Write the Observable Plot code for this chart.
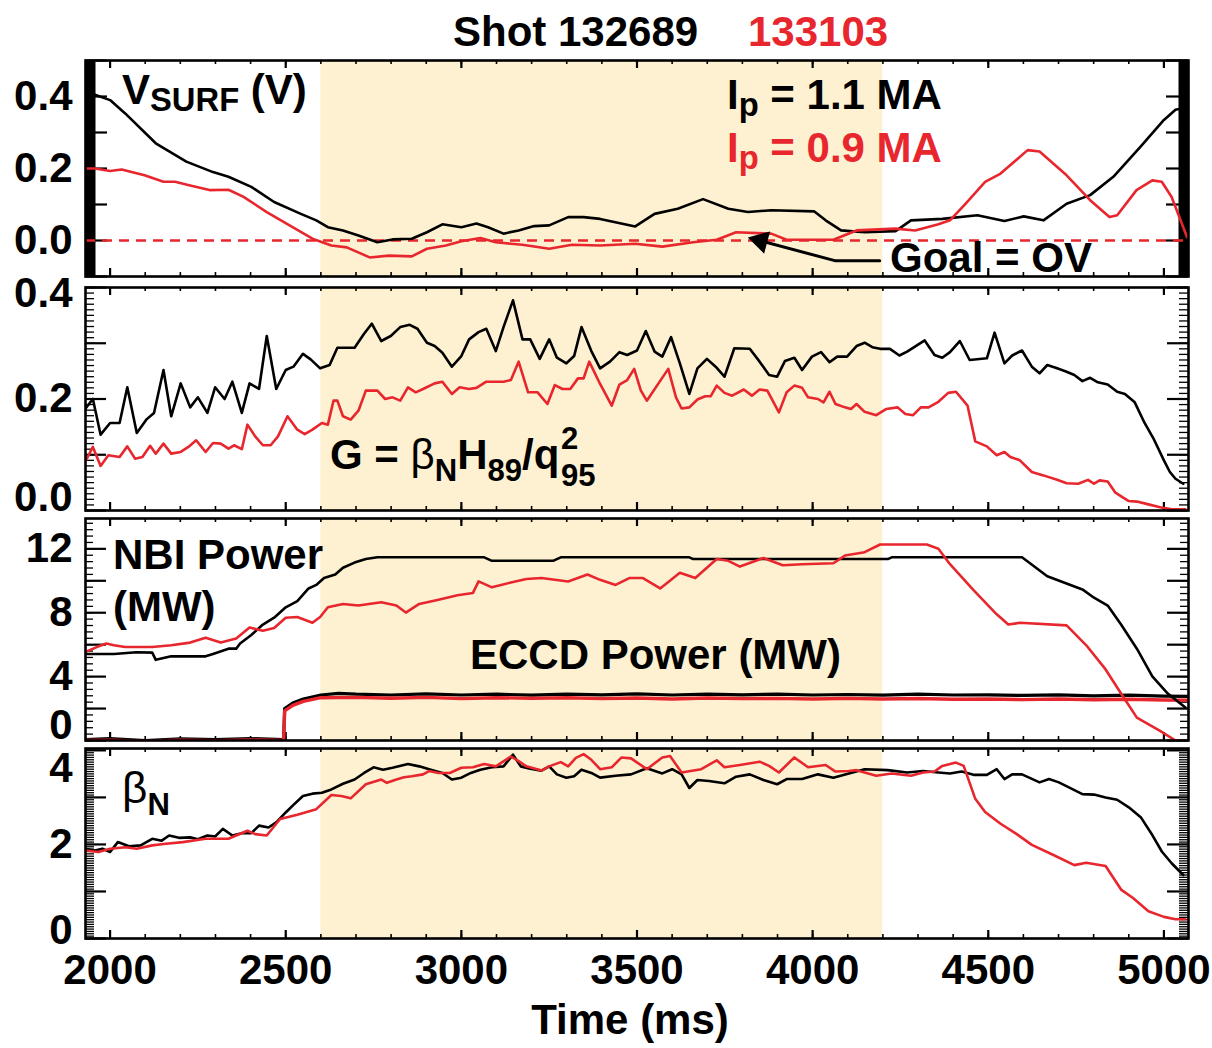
<!DOCTYPE html>
<html>
<head>
<meta charset="utf-8">
<script src="https://cdn.jsdelivr.net/npm/d3@7"></script>
<script src="https://cdn.jsdelivr.net/npm/@observablehq/plot@0.6"></script>
<style>
  html, body { margin: 0; padding: 0; background: #fff; }
  #wrap { position: relative; width: 1212px; height: 1048px; overflow: hidden;
          font-family: "Liberation Sans", Arial, Helvetica, sans-serif; font-weight: bold; }
  .ann { position: absolute; white-space: nowrap; line-height: 1; }
  .sub { font-size: 0.78em; position: relative; top: 0.2em; }
  .subL { font-size: 0.74em; position: relative; top: 0.38em; }
  .thin { font-weight: normal; }
  .stack { position: relative; display: inline-block; width: 0.82em; height: 0; font-size: 0.74em; }
  .stack span { position: absolute; left: 0.05em; line-height: 1; }
</style>
</head>
<body>
<div id="wrap"></div>
<script>
// ---------------- DATA ----------------
// Shot 132689 (black, Ip = 1.1 MA) and 133103 (red, Ip = 0.9 MA); time in ms
const timeDomain = [1930, 5070];
const eccdWindow = [{start: 2600, end: 4200}];
const timeMajorTicks = [2000, 2500, 3000, 3500, 4000, 4500, 5000];

// Surface loop voltage V_SURF (V)
const vsurf132689 = [[1930,0.41],[1957,0.405],[2000,0.39],[2043,0.353],[2130,0.27],[2217,0.219],[2293,0.19],[2337,0.177],[2402,0.149],[2467,0.107],[2543,0.074],[2587,0.056],[2620,0.037],[2663,0.028],[2707,0.014],[2761,-0.005],[2804,0.003],[2859,0.005],[2902,0.023],[2946,0.045],[3000,0.037],[3043,0.047],[3076,0.037],[3120,0.019],[3163,0.028],[3207,0.04],[3250,0.042],[3304,0.065],[3348,0.065],[3395,0.06],[3495,0.039],[3550,0.074],[3616,0.088],[3688,0.115],[3760,0.088],[3816,0.079],[3882,0.084],[4004,0.081],[4037,0.056],[4081,0.028],[4148,0.023],[4236,0.026],[4280,0.056],[4369,0.06],[4469,0.07],[4546,0.054],[4601,0.067],[4657,0.056],[4723,0.102],[4790,0.126],[4856,0.177],[4933,0.26],[5000,0.335],[5033,0.363],[5065,0.37]];
const vsurf133103 = [[1930,0.2],[1957,0.2],[2000,0.193],[2033,0.197],[2098,0.181],[2152,0.163],[2185,0.163],[2228,0.153],[2283,0.14],[2337,0.141],[2380,0.121],[2446,0.079],[2511,0.042],[2576,0.005],[2630,-0.014],[2674,-0.019],[2739,-0.047],[2794,-0.042],[2859,-0.044],[2902,-0.023],[2956,-0.014],[3000,-0.002],[3054,0.007],[3098,-0.005],[3174,-0.012],[3250,-0.023],[3315,-0.012],[3395,-0.014],[3495,-0.009],[3572,-0.017],[3660,-0.005],[3727,0.002],[3782,0.023],[3882,0.019],[3926,0.002],[4059,0.002],[4125,0.028],[4236,0.033],[4292,0.028],[4358,0.045],[4391,0.056],[4435,0.102],[4491,0.163],[4535,0.186],[4612,0.251],[4646,0.247],[4723,0.181],[4790,0.112],[4845,0.065],[4867,0.07],[4922,0.14],[4967,0.167],[4994,0.163],[5022,0.121],[5066,0.009]];
const vsurfGoal = [0];
const goalLeader = [[4191,-0.056],[4063,-0.056],[3856,-0.002]];
const goalArrowHead = [[3852,-0.001]];

// G = betaN H89 / q95^2
const g132689 = [[1929,0.182],[1951,0.2],[1973,0.136],[2000,0.157],[2027,0.157],[2049,0.221],[2076,0.139],[2103,0.163],[2125,0.175],[2152,0.252],[2174,0.169],[2201,0.228],[2228,0.185],[2250,0.203],[2277,0.175],[2299,0.221],[2326,0.2],[2348,0.231],[2375,0.175],[2397,0.228],[2424,0.218],[2446,0.313],[2473,0.218],[2500,0.252],[2522,0.258],[2549,0.281],[2571,0.271],[2598,0.255],[2625,0.261],[2647,0.292],[2674,0.292],[2696,0.292],[2723,0.317],[2745,0.335],[2772,0.304],[2799,0.313],[2826,0.329],[2853,0.333],[2875,0.326],[2902,0.301],[2924,0.295],[2946,0.283],[2973,0.258],[3000,0.277],[3022,0.307],[3049,0.32],[3071,0.326],[3098,0.286],[3120,0.329],[3147,0.377],[3174,0.307],[3196,0.307],[3223,0.272],[3250,0.307],[3272,0.274],[3299,0.264],[3321,0.277],[3342,0.329],[3370,0.286],[3395,0.255],[3423,0.267],[3450,0.284],[3472,0.279],[3500,0.287],[3525,0.322],[3550,0.285],[3572,0.276],[3597,0.311],[3622,0.264],[3649,0.209],[3672,0.255],[3699,0.272],[3727,0.256],[3749,0.24],[3777,0.291],[3821,0.29],[3849,0.267],[3876,0.243],[3899,0.24],[3921,0.268],[3948,0.274],[3970,0.252],[3998,0.276],[4024,0.284],[4048,0.266],[4070,0.276],[4098,0.276],[4125,0.295],[4148,0.301],[4170,0.293],[4192,0.29],[4220,0.29],[4247,0.278],[4269,0.285],[4319,0.305],[4347,0.279],[4369,0.274],[4391,0.284],[4419,0.304],[4447,0.27],[4496,0.273],[4518,0.319],[4546,0.264],[4568,0.278],[4596,0.287],[4624,0.258],[4646,0.246],[4668,0.261],[4696,0.255],[4723,0.249],[4745,0.243],[4768,0.232],[4790,0.238],[4812,0.23],[4840,0.226],[4867,0.213],[4889,0.209],[4917,0.194],[4945,0.157],[4972,0.127],[5000,0.09],[5017,0.069],[5033,0.057],[5055,0.048]];
const g133103 = [[1929,0.087],[1951,0.114],[1973,0.08],[1995,0.099],[2027,0.096],[2049,0.115],[2071,0.093],[2092,0.096],[2114,0.116],[2130,0.102],[2152,0.12],[2174,0.102],[2201,0.105],[2223,0.114],[2245,0.126],[2272,0.105],[2293,0.121],[2315,0.12],[2337,0.111],[2353,0.117],[2375,0.11],[2391,0.154],[2413,0.133],[2435,0.117],[2457,0.117],[2478,0.133],[2505,0.169],[2533,0.145],[2554,0.137],[2576,0.145],[2603,0.157],[2620,0.154],[2636,0.197],[2647,0.197],[2663,0.169],[2685,0.163],[2707,0.179],[2728,0.215],[2761,0.215],[2783,0.2],[2804,0.203],[2826,0.197],[2848,0.221],[2870,0.212],[2891,0.218],[2924,0.228],[2946,0.231],[2973,0.209],[2995,0.221],[3022,0.218],[3043,0.22],[3071,0.231],[3098,0.231],[3120,0.231],[3141,0.234],[3163,0.267],[3190,0.212],[3217,0.212],[3245,0.191],[3266,0.225],[3288,0.218],[3310,0.218],[3332,0.237],[3348,0.237],[3364,0.267],[3395,0.227],[3428,0.188],[3450,0.226],[3472,0.234],[3492,0.254],[3511,0.215],[3528,0.197],[3589,0.254],[3611,0.203],[3627,0.183],[3649,0.185],[3672,0.199],[3694,0.205],[3710,0.205],[3727,0.224],[3749,0.211],[3771,0.206],[3804,0.217],[3827,0.206],[3849,0.217],[3871,0.215],[3904,0.176],[3926,0.212],[3948,0.224],[3970,0.22],[3987,0.203],[4015,0.2],[4031,0.194],[4048,0.213],[4065,0.191],[4092,0.185],[4109,0.182],[4125,0.191],[4148,0.177],[4181,0.171],[4209,0.182],[4242,0.185],[4264,0.173],[4286,0.171],[4308,0.185],[4330,0.185],[4358,0.195],[4386,0.211],[4408,0.213],[4441,0.188],[4463,0.124],[4496,0.115],[4524,0.099],[4546,0.105],[4563,0.096],[4590,0.09],[4624,0.069],[4657,0.063],[4696,0.055],[4723,0.049],[4756,0.048],[4784,0.055],[4801,0.048],[4817,0.054],[4840,0.052],[4862,0.032],[4884,0.023],[4900,0.017],[4923,0.016],[4956,0.011],[4989,0.006],[5022,0.002],[5061,0.002]];

// NBI power (MW)
const nbi132689 = [[1930,5.42],[2011,5.42],[2075,5.53],[2120,5.5],[2130,5.05],[2174,5.27],[2272,5.27],[2293,5.42],[2337,5.75],[2359,5.75],[2370,6.07],[2402,6.61],[2435,7.26],[2467,7.69],[2500,8.34],[2533,8.73],[2565,9.52],[2587,9.74],[2609,10.17],[2641,10.39],[2663,10.82],[2696,11.14],[2728,11.36],[2761,11.47],[3065,11.47],[3087,11.25],[3261,11.25],[3283,11.47],[3649,11.47],[3660,11.36],[4214,11.36],[4225,11.47],[4596,11.47],[4668,10.28],[4768,9.46],[4801,8.94],[4840,8.45],[4878,7.26],[4923,5.75],[4967,4.02],[5011,2.94],[5061,2.07]];
const nbi133103 = [[1929,5.53],[1962,5.85],[1989,6.07],[2011,5.96],[2043,5.85],[2120,5.85],[2174,5.96],[2228,6.13],[2272,6.44],[2315,6.13],[2359,6.39],[2397,7.08],[2435,6.87],[2467,7.04],[2500,7.69],[2533,7.73],[2576,7.37],[2598,7.73],[2620,8.34],[2663,8.55],[2707,8.45],[2772,8.66],[2815,8.45],[2842,8.01],[2880,8.55],[2935,8.81],[2989,9.09],[3033,9.24],[3049,9.96],[3087,9.59],[3141,9.89],[3185,10.11],[3228,10.17],[3304,9.96],[3359,10.39],[3395,10.06],[3439,9.74],[3478,10.17],[3517,10.17],[3566,9.52],[3622,10.5],[3666,10.17],[3727,11.36],[3760,11.25],[3793,10.89],[3860,11.43],[3915,10.97],[3970,11.04],[4059,11.1],[4092,11.58],[4148,11.79],[4192,12.27],[4325,12.27],[4358,12.01],[4391,11.04],[4458,9.42],[4524,7.9],[4557,7.26],[4590,7.37],[4723,7.21],[4779,5.96],[4834,4.45],[4878,2.94],[4923,1.43],[4989,0.6],[5033,0.0],[5065,0.0]];

// ECCD power (MW)
const eccd132689 = [[1930,0.05],[2000,0.12],[2100,0.0],[2200,0.1],[2300,0.05],[2400,0.12],[2494,0.05],[2497,2.0],[2520,2.35],[2550,2.6],[2600,2.85],[2650,2.95],[2700,2.9],[2800,2.85],[2900,2.92],[3000,2.85],[3100,2.9],[3200,2.84],[3300,2.9],[3400,2.86],[3500,2.92],[3600,2.85],[3700,2.9],[3800,2.86],[3900,2.9],[4000,2.85],[4100,2.88],[4200,2.84],[4300,2.9],[4400,2.85],[4500,2.86],[4600,2.82],[4700,2.86],[4800,2.8],[4900,2.84],[5000,2.78],[5070,2.76]];
const eccd133103 = [[1930,0.0],[2000,0.02],[2100,-0.05],[2200,0.02],[2300,-0.02],[2400,0.03],[2494,0.0],[2497,1.85],[2520,2.2],[2550,2.45],[2600,2.68],[2700,2.7],[2800,2.65],[2900,2.7],[3000,2.62],[3100,2.68],[3200,2.64],[3300,2.68],[3400,2.62],[3500,2.66],[3600,2.6],[3700,2.66],[3800,2.62],[3900,2.64],[4000,2.6],[4100,2.64],[4200,2.6],[4300,2.63],[4400,2.58],[4500,2.6],[4600,2.56],[4700,2.6],[4800,2.55],[4900,2.58],[5000,2.54],[5070,2.52]];

// Normalized beta
const betaN132689 = [[1929,1.91],[1957,1.87],[1978,1.91],[2000,1.84],[2022,2.05],[2054,1.96],[2087,1.98],[2120,2.12],[2147,2.08],[2168,2.19],[2196,2.14],[2228,2.15],[2250,2.11],[2277,2.19],[2299,2.17],[2321,2.33],[2348,2.19],[2375,2.24],[2402,2.24],[2424,2.4],[2451,2.36],[2473,2.47],[2500,2.68],[2522,2.84],[2549,3.03],[2576,3.08],[2603,3.1],[2630,3.17],[2663,3.29],[2696,3.38],[2723,3.52],[2750,3.64],[2777,3.59],[2804,3.63],[2848,3.71],[2880,3.66],[2913,3.59],[2946,3.52],[2973,3.38],[3000,3.42],[3027,3.52],[3054,3.59],[3087,3.64],[3120,3.66],[3147,3.91],[3169,3.66],[3196,3.61],[3228,3.57],[3250,3.66],[3272,3.49],[3299,3.42],[3321,3.45],[3342,3.59],[3370,3.52],[3395,3.42],[3439,3.46],[3483,3.49],[3528,3.62],[3572,3.51],[3600,3.6],[3627,3.49],[3649,3.2],[3672,3.37],[3705,3.35],[3749,3.3],[3782,3.44],[3821,3.49],[3860,3.37],[3899,3.28],[3926,3.39],[3970,3.39],[4015,3.49],[4059,3.42],[4103,3.51],[4148,3.6],[4214,3.58],[4269,3.53],[4314,3.56],[4358,3.53],[4391,3.51],[4424,3.55],[4458,3.48],[4496,3.48],[4524,3.6],[4546,3.39],[4568,3.49],[4596,3.49],[4646,3.32],[4673,3.39],[4701,3.32],[4768,3.07],[4801,3.06],[4834,3.0],[4867,2.95],[4900,2.79],[4934,2.58],[4967,2.2],[4994,1.85],[5022,1.6],[5055,1.35]];
const betaN133103 = [[1929,1.87],[1967,1.84],[2000,1.91],[2043,1.94],[2076,1.91],[2120,1.98],[2152,2.01],[2207,2.05],[2272,2.12],[2337,2.12],[2391,2.29],[2413,2.22],[2446,2.19],[2484,2.54],[2533,2.63],[2587,2.75],[2630,3.05],[2658,3.03],[2685,2.98],[2728,3.28],[2772,3.38],[2788,3.31],[2815,3.38],[2837,3.43],[2859,3.45],[2891,3.49],[2908,3.56],[2935,3.52],[2967,3.52],[3000,3.63],[3033,3.64],[3065,3.71],[3098,3.66],[3141,3.87],[3163,3.77],[3185,3.66],[3228,3.57],[3250,3.66],[3283,3.75],[3304,3.66],[3326,3.84],[3348,3.92],[3370,3.8],[3395,3.6],[3428,3.64],[3456,3.85],[3483,3.83],[3528,3.6],[3572,3.85],[3594,3.88],[3627,3.53],[3683,3.6],[3727,3.79],[3749,3.64],[3793,3.69],[3849,3.76],[3876,3.67],[3904,3.53],[3948,3.85],[3987,3.64],[4037,3.69],[4065,3.55],[4103,3.56],[4125,3.58],[4181,3.46],[4225,3.51],[4280,3.46],[4314,3.53],[4347,3.55],[4369,3.67],[4408,3.74],[4430,3.67],[4463,2.97],[4491,2.69],[4535,2.44],[4579,2.23],[4624,1.99],[4684,1.78],[4745,1.56],[4779,1.61],[4834,1.54],[4878,1.04],[4912,0.86],[4956,0.58],[5000,0.46],[5033,0.41],[5061,0.41]];

// Axis tick values per panel
const vsurfLabels = [0, 0.2, 0.4];
const vsurfMajor = [-0.1, 0, 0.1, 0.2, 0.3, 0.4, 0.5];
const gLabelsMid = [0.2];
const gMajor = [0, 0.1, 0.2, 0.3, 0.4];
const powerLabelsMid = [4, 8, 12];
const powerMajor = [0, 2, 4, 6, 8, 10, 12];
const betaLabelsMid = [2];
const betaMajor = [0, 1, 2, 3, 4];

// ---------------- DRAWING ----------------
const BLACK = "#000";
const RED = "#e8262d";
const SHADE = "#fdf1d1";
const W = 1212, ML = 85, MR = 24, MT = 5;
const innerW = W - ML - MR;
const wrap = document.getElementById("wrap");
const pts = (pairs) => pairs.map(([t, v]) => ({t, v}));
const timeMinorTicks = d3.range(2000, 5001, 100);
const FONT = "'Liberation Sans', Arial, Helvetica, sans-serif";

function curve(pairs, color, width = 2.6) {
  return Plot.line(pts(pairs), {x: "t", y: "v", stroke: color, strokeWidth: width, strokeLinejoin: "round", clip: true});
}

function drawPanel(o) {
  const innerH = o.frameH;
  const mb = o.marginBottom ?? 5;
  const marks = [
    Plot.rect(eccdWindow, {x1: "start", x2: "end", fill: SHADE}),
    Plot.tickX(timeMinorTicks, {stroke: BLACK, strokeWidth: 1.6, insetBottom: innerH - 4}),
    Plot.tickX(timeMinorTicks, {stroke: BLACK, strokeWidth: 1.6, insetTop: innerH - 4}),
    Plot.tickX(timeMajorTicks, {stroke: BLACK, strokeWidth: 2.2, insetBottom: innerH - 8}),
    Plot.tickX(timeMajorTicks, {stroke: BLACK, strokeWidth: 2.2, insetTop: innerH - 8}),
  ];
  if (o.yMinor) {
    marks.push(
      Plot.tickY(o.yMinor, {stroke: BLACK, strokeWidth: 1.3, insetRight: innerW - o.minorLen}),
      Plot.tickY(o.yMinor, {stroke: BLACK, strokeWidth: 1.3, insetLeft: innerW - o.minorLen})
    );
  }
  marks.push(
    Plot.tickY(o.yMajor, {stroke: BLACK, strokeWidth: 2.2, insetRight: innerW - o.majorLen}),
    Plot.tickY(o.yMajor, {stroke: BLACK, strokeWidth: 2.2, insetLeft: innerW - o.majorLen})
  );
  marks.push(...o.marks);
  marks.push(Plot.frame({stroke: BLACK, strokeWidth: 2.6}));
  for (const lab of o.labels) {
    marks.push(Plot.axisY(lab.ticks, {
      anchor: "left", tickSize: 0, tickPadding: 13, dy: lab.dy || 0,
      tickFormat: o.format, fontSize: 42, fontWeight: "bold", fontFamily: FONT, fill: BLACK, label: null
    }));
  }
  if (o.xAxis) {
    marks.push(Plot.axisX(timeMajorTicks, {
      anchor: "bottom", tickSize: 0, tickPadding: 16, tickFormat: d3.format("d"),
      fontSize: 42, fontWeight: "bold", fontFamily: FONT, fill: BLACK, label: null
    }));
  }
  const svg = Plot.plot({
    width: W, height: MT + innerH + mb,
    marginLeft: ML, marginRight: MR, marginTop: MT, marginBottom: mb,
    x: {domain: timeDomain, axis: null},
    y: {domain: o.yDomain, axis: null},
    style: {background: "transparent", overflow: "visible", fontFamily: FONT, fontWeight: "bold", fontSize: "42px", color: BLACK},
    marks
  });
  svg.style.position = "absolute";
  svg.style.left = "0px";
  svg.style.top = (o.top - MT) + "px";
  wrap.appendChild(svg);
}

// Panel 1: V_SURF
drawPanel({
  top: 60, frameH: 216, yDomain: [-0.1, 0.5],
  yMajor: vsurfMajor, majorLen: 22,
  format: d3.format(".1f"),
  labels: [{ticks: vsurfLabels}],
  marks: [
    Plot.ruleX([timeDomain[0]], {stroke: BLACK, strokeWidth: 10, dx: 5}),
    Plot.ruleX([timeDomain[1]], {stroke: BLACK, strokeWidth: 10, dx: -5}),
    Plot.ruleY(vsurfGoal, {stroke: RED, strokeWidth: 2.5, strokeDasharray: "10,7"}),
    curve(vsurf132689, BLACK),
    curve(vsurf133103, RED),
    Plot.line(pts(goalLeader), {x: "t", y: "v", stroke: BLACK, strokeWidth: 3}),
    Plot.dot(pts(goalArrowHead), {x: "t", y: "v", symbol: "triangle2", r: 11, fill: BLACK, stroke: "none", rotate: -75})
  ]
});

// Panel 2: G
drawPanel({
  top: 287, frameH: 223, yDomain: [0, 0.4],
  yMajor: gMajor, majorLen: 21, yMinor: d3.range(0, 0.401, 0.01), minorLen: 9,
  format: d3.format(".1f"),
  labels: [{ticks: gLabelsMid}, {ticks: [0.4], dy: 6}, {ticks: [0], dy: -13}],
  marks: [curve(g132689, BLACK), curve(g133103, RED)]
});

// Panel 3: NBI and ECCD power
drawPanel({
  top: 518, frameH: 222, yDomain: [0, 13.9],
  yMajor: powerMajor, majorLen: 21, yMinor: d3.range(0, 13.9, 0.4), minorLen: 8,
  format: d3.format("d"),
  labels: [{ticks: powerLabelsMid}, {ticks: [0], dy: -15}],
  marks: [
    curve(eccd132689, BLACK, 3.2),
    curve(eccd133103, RED, 3.4),
    curve(nbi132689, BLACK),
    curve(nbi133103, RED)
  ]
});

// Panel 4: betaN
drawPanel({
  top: 748, frameH: 190, marginBottom: 60, yDomain: [0, 4.04],
  yMajor: betaMajor, majorLen: 21, yMinor: d3.range(0, 4.04, 0.05), minorLen: 9,
  format: d3.format("d"),
  labels: [{ticks: betaLabelsMid}, {ticks: [4], dy: 18}, {ticks: [0], dy: -8}],
  xAxis: true,
  marks: [curve(betaN132689, BLACK), curve(betaN133103, RED)]
});

// ---------------- TEXT ----------------
function label(html, left, baseline, opts = {}) {
  const size = opts.size || 42;
  const d = document.createElement("div");
  d.className = "ann";
  d.innerHTML = html;
  d.style.left = left + "px";
  d.style.top = (baseline - 0.8465 * size) + "px";
  d.style.fontSize = size + "px";
  d.style.color = opts.color || BLACK;
  if (opts.center) d.style.transform = "translateX(-50%)";
  wrap.appendChild(d);
}
label("Shot 132689", 453, 47);
label("133103", 748, 47, {color: RED});
label('V<span class="sub">SURF</span> (V)', 122, 105);
label('I<span class="sub">p</span> = 1.1 MA', 727, 110);
label('I<span class="sub">p</span> = 0.9 MA', 727, 163, {color: RED});
label("Goal = OV", 890, 273);
label('G = <span class="thin">β</span><span class="subL">N</span>H<span class="subL">89</span>/q<span class="stack"><span style="top:-1.5em">2</span><span style="top:-0.3em">95</span></span>', 330, 470);
label("NBI Power", 113, 570);
label("(MW)", 113, 622);
label("ECCD Power (MW)", 470, 670);
label('<span class="thin" style="font-size:1.05em">β</span><span class="subL">N</span>', 122, 802);
label("Time (ms)", 630, 1035, {center: true});
</script>
</body>
</html>
